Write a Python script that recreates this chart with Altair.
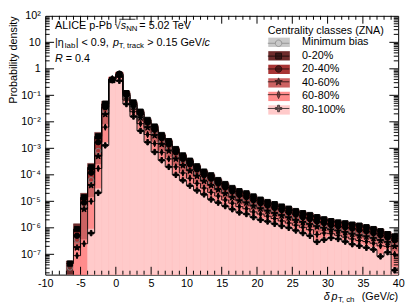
import altair as alt
import pandas as pd

FONT = "Liberation Sans"
W, H = 360, 264
X_MIN, X_MAX = -10, 40
Y_MIN, Y_MAX = 1.71e-8, 100.0

# ---------------- data ----------------
BIN_LEFT = list(range(-7, 40))  # 1 GeV/c wide bins, -7 ... 39

SERIES = ["Minimum bias", "0-20%", "20-40%", "40-60%", "60-80%", "80-100%"]
COLORS = ["#c8c8c8", "#6e2c2c", "#a83434", "#cc6262", "#ff8c8c", "#ffcaca"]

# log10(probability density), one entry per bin; None = no entry
LOG_MIN_BIAS = [-7.50, -6.45, -5.20, -4.20, -3.10, -1.60, -0.39, -0.20,
                -1.02, -1.42, -1.80, -2.15, -2.45, -2.77, -3.02, -3.32, -3.56, -3.76,
                -3.96, -4.15, -4.31, -4.47, -4.62, -4.76, -4.89, -4.97, -5.10, -5.20,
                -5.29, -5.38, -5.46, -5.54, -5.63, -5.72, -5.80, -5.90, -5.96, -6.02,
                -6.06, -6.11, -6.16, -6.22, -6.27, -6.33, -6.41, -6.48, -6.60]
LOG_C0_20 = [-7.35, -6.05, -4.85, -3.72, -2.55, -1.32, -0.42, -0.22,
             -0.92, -1.27, -1.62, -1.93, -2.18, -2.50, -2.73, -3.03, -3.27, -3.47,
             -3.68, -3.88, -4.02, -4.20, -4.35, -4.50, -4.62, -4.70, -4.82, -4.94,
             -5.03, -5.11, -5.20, -5.28, -5.37, -5.45, -5.52, -5.60, -5.68, -5.75,
             -5.80, -5.83, -5.88, -5.92, -5.98, -6.05, -6.13, -6.24, -6.33]
LOG_C20_40 = [None, -6.30, -5.05, -3.92, -2.77, -1.45, -0.40, -0.18,
              -0.98, -1.35, -1.70, -2.03, -2.30, -2.62, -2.86, -3.15, -3.40, -3.60,
              -3.80, -4.01, -4.15, -4.33, -4.48, -4.63, -4.76, -4.84, -4.96, -5.07,
              -5.16, -5.25, -5.33, -5.42, -5.50, -5.60, -5.67, -5.76, -5.82, -5.90,
              -5.94, -5.98, -6.03, -6.08, -6.13, -6.20, -6.28, -6.37, -6.47]
LOG_C40_60 = [None, -6.75, -5.30, -4.40, -3.30, -1.72, -0.38, -0.20,
              -1.05, -1.45, -1.85, -2.22, -2.52, -2.85, -3.10, -3.40, -3.65, -3.85,
              -4.05, -4.24, -4.40, -4.56, -4.71, -4.85, -4.98, -5.06, -5.18, -5.28,
              -5.37, -5.46, -5.54, -5.62, -5.72, -5.80, -5.88, -5.96, -6.02, -6.08,
              -6.12, -6.18, -6.24, -6.30, -6.34, -6.40, -6.48, -6.55, -6.70]
LOG_C60_80 = [None, -7.05, -6.60, -5.00, -3.76, -2.20, -0.38, -0.26,
              -1.18, -1.62, -2.07, -2.48, -2.82, -3.15, -3.40, -3.70, -3.93, -4.13,
              -4.32, -4.50, -4.66, -4.80, -4.95, -5.07, -5.20, -5.28, -5.40, -5.48,
              -5.56, -5.65, -5.74, -5.82, -5.90, -5.98, -6.07, -6.25, -6.20, -6.22,
              -6.28, -6.35, -6.42, -6.48, -6.52, -6.58, -6.68, -6.70, -7.00]
LOG_C80_100 = [None, None, None, -6.20, -4.68, -2.89, -0.43, -0.45,
               -1.33, -1.80, -2.34, -2.77, -3.14, -3.45, -3.70, -4.00, -4.21, -4.41,
               -4.59, -4.74, -4.93, -5.05, -5.18, -5.30, -5.42, -5.48, -5.60, -5.70,
               -5.76, -5.85, -5.93, -6.00, -6.10, -6.20, -6.30, -6.53, -6.45, -6.38,
               -6.42, -6.52, -6.62, -6.68, -6.75, -6.82, -7.08, -6.92, -7.60]
# systematic uncertainty (log10 half height of the boxes), per bin
SYS_LOG = [0.10, 0.20, 0.15, 0.15, 0.15, 0.10, 0.07, 0.06,
           0.06, 0.05, 0.05, 0.05, 0.05, 0.05, 0.05, 0.05, 0.05, 0.05,
           0.05, 0.05, 0.05, 0.05, 0.05, 0.05, 0.05, 0.05, 0.05, 0.05,
           0.05, 0.05, 0.05, 0.05, 0.05, 0.05, 0.06, 0.06, 0.06, 0.06,
           0.06, 0.06, 0.07, 0.07, 0.07, 0.08, 0.08, 0.09, 0.10]
ALL_LOGS = [LOG_MIN_BIAS, LOG_C0_20, LOG_C20_40, LOG_C40_60, LOG_C60_80, LOG_C80_100]

# axis tick values / labels
X_MAJOR = [-10, -5, 0, 5, 10, 15, 20, 25, 30, 35, 40]
X_MINOR = [v for v in range(-10, 41) if v % 5 != 0]
Y_MAJOR = [1e-7, 1e-6, 1e-5, 1e-4, 1e-3, 1e-2, 1e-1, 1.0, 10.0, 100.0]
Y_EXPONENTS = [-7, -6, -5, -4, -3, -2, -1, 0, 1, 2]
Y_LABELS = ["10⁻⁷", "10⁻⁶", "10⁻⁵", "10⁻⁴", "10⁻³", "10⁻²", "10⁻¹", "1", "10", "10²"]
Y_MINOR = [k * 10.0 ** n for n in range(-8, 2) for k in range(2, 10)
           if Y_MIN < k * 10.0 ** n < Y_MAX]

# ---------------- tables ----------------
rows, steps = [], []
for name, logs in zip(SERIES, ALL_LOGS):
    last = None
    for b, v, e in zip(BIN_LEFT, logs, SYS_LOG):
        if v is None:
            continue
        rows.append({"series": name, "x0": b, "x1": b + 1, "xc": b + 0.5,
                     "value": 10 ** v, "top": 10 ** (v + e)})
        steps.append({"series": name, "x": b, "value": 10 ** v})
        last = (b, v)
    steps.append({"series": name, "x": last[0] + 1, "value": 10 ** last[1]})
df = pd.DataFrame(rows)
df_steps = pd.DataFrame(steps)

XS = alt.Scale(domain=[X_MIN, X_MAX], nice=False, zero=False)
YS = alt.Scale(type="log", domain=[Y_MIN, Y_MAX], nice=False)

ylabel_expr = " : ".join(
    f"round(log(datum.value)/LN10) == {k} ? '{t}'" for k, t in zip(Y_EXPONENTS, Y_LABELS)
) + " : ''"

X_AXIS = alt.Axis(values=X_MAJOR, labelExpr="'' + datum.value", ticks=False, domain=False,
                  grid=False, labelPadding=3, labelFontSize=11, labelFont=FONT,
                  labelColor="black", labelFlush=False, labelOverlap=False, title=None)
Y_AXIS = alt.Axis(values=Y_MAJOR, labelExpr=ylabel_expr, ticks=False, domain=False,
                  grid=False, labelPadding=5, labelFontSize=11, labelFont=FONT,
                  labelColor="black", labelFlush=False, labelOverlap=False,
                  title="Probability density", titleFont=FONT, titleFontSize=11,
                  titleFontWeight="normal", titleColor="black", titleAngle=270,
                  titleX=-32, titleY=0, titleAlign="right", titleBaseline="middle")

def X(field):
    return alt.X(field, scale=XS, axis=X_AXIS)

def Y(field):
    return alt.Y(field, scale=YS, axis=Y_AXIS)

BOX = "M-2.2,-0.95H2.2V0.95H-2.2Z"
LEGEND_A = alt.Legend(orient="none", legendX=227, legendY=10, padding=0,
                      title="Centrality classes (ZNA)", titleFont=FONT, titleFontSize=11,
                      titleFontWeight="normal", titleColor="black", titlePadding=0.5,
                      labelFont=FONT, labelFontSize=11, labelColor="black", labelOffset=18,
                      symbolType=BOX, symbolSize=100, symbolOffset=6, symbolStrokeWidth=0,
                      rowPadding=1.8)

# filled histograms / boxes
fills = alt.Chart(df).mark_rect(strokeWidth=0.6, clip=True).encode(
    x=X("x0:Q"),
    x2="x1:Q",
    y=Y("top:Q"),
    y2=alt.datum(Y_MIN),
    fill=alt.Fill("series:N", scale=alt.Scale(domain=SERIES, range=COLORS),
                  legend=LEGEND_A),
    stroke=alt.Stroke("series:N", scale=alt.Scale(domain=SERIES, range=COLORS),
                      legend=None),
)

# step outlines through the bin values
step_black = alt.Chart(df_steps).transform_filter(
    "datum.series != 'Minimum bias'"
).mark_line(interpolate="step-after", color="black", strokeWidth=0.9, clip=True).encode(
    x=X("x:Q"),
    y=Y("value:Q"),
    detail="series:N",
)

STAR = ("M0,-1.2L0.282,-0.388L1.141,-0.371L0.457,0.148L0.705,0.971L0,0.48"
        "L-0.705,0.971L-0.457,0.148L-1.141,-0.371L-0.282,-0.388Z")
THIN_DIAMOND = "M0,-1.2L0.5,0L0,1.2L-0.5,0Z"
FAT_CROSS = "M-0.3,-1H0.3V-0.3H1V0.3H0.3V1H-0.3V0.3H-1V-0.3H-0.3Z"
PLOT_SHAPES = ["circle", "square", "circle", STAR, THIN_DIAMOND, FAT_CROSS]
MARK_FILL = ["transparent", "black", "black", "black", "black", "black"]
MARK_STROKE = ["#808080", "black", "black", "black", "black", "black"]

markers = alt.Chart(df).mark_point(filled=True, size=30, strokeWidth=1, opacity=1,
                                   clip=True).encode(
    x=X("xc:Q"),
    y=Y("value:Q"),
    shape=alt.Shape("series:N", scale=alt.Scale(domain=SERIES, range=PLOT_SHAPES), legend=None),
    fill=alt.Fill("series:N", scale=alt.Scale(domain=SERIES, range=MARK_FILL), legend=None),
    stroke=alt.Stroke("series:N", scale=alt.Scale(domain=SERIES, range=MARK_STROKE), legend=None),
)

# legend: line + marker symbols drawn over the colour boxes
LEG_SHAPES = [
    "M-2.2,0H-0.66M0.66,0H2.2M0.66,0A0.66,0.66,0,1,1,-0.66,0A0.66,0.66,0,1,1,0.66,0Z",
    "M-2.2,0H2.2M-0.6,-0.6H0.6V0.6H-0.6Z",
    "M-2.2,0H2.2M0.66,0A0.66,0.66,0,1,1,-0.66,0A0.66,0.66,0,1,1,0.66,0Z",
    "M-2.2,0H2.2M0,-0.8L0.19,-0.26L0.75,-0.24L0.3,0.1L0.47,0.64L0,0.32"
    "L-0.47,0.64L-0.3,0.1L-0.75,-0.24L-0.19,-0.26Z",
    "M-2.2,0H2.2M0,-0.8L0.33,0L0,0.8L-0.33,0Z",
    "M-2.2,0H2.2M-0.2,-0.66H0.2V-0.2H0.66V0.2H0.2V0.66H-0.2V0.2H-0.66V-0.2H-0.2Z",
]
LEGEND_B = alt.Legend(orient="none", legendX=227, legendY=22.5, padding=0, title=None,
                      labelFont=FONT, labelFontSize=11, labelExpr="''",
                      labelOffset=18, symbolSize=100, symbolOffset=5.5, symbolStrokeWidth=1,
                      rowPadding=1.1)
legend_marks = alt.Chart(pd.DataFrame({"entry": SERIES})).transform_filter(
    "false"
).mark_point(filled=True, strokeWidth=1).encode(
    shape=alt.Shape("entry:N", scale=alt.Scale(domain=SERIES, range=LEG_SHAPES), legend=LEGEND_B),
    fill=alt.Fill("entry:N", scale=alt.Scale(domain=SERIES, range=MARK_FILL), legend=LEGEND_B),
    stroke=alt.Stroke("entry:N", scale=alt.Scale(domain=SERIES, range=MARK_STROKE), legend=LEGEND_B),
)

# inner ticks on all four sides
def xticks(values, length):
    d = pd.DataFrame({"v": values})
    bottom = alt.Chart(d).mark_rule(color="black", strokeWidth=1).encode(
        x=X("v:Q"), y=alt.value(H), y2=alt.value(H - length))
    top = alt.Chart(d).mark_rule(color="black", strokeWidth=1).encode(
        x=X("v:Q"), y=alt.value(0), y2=alt.value(length))
    return [bottom, top]

def yticks(values, length):
    d = pd.DataFrame({"v": values})
    left = alt.Chart(d).mark_rule(color="black", strokeWidth=1).encode(
        y=Y("v:Q"), x=alt.value(0), x2=alt.value(length))
    right = alt.Chart(d).mark_rule(color="black", strokeWidth=1).encode(
        y=Y("v:Q"), x=alt.value(W), x2=alt.value(W - length))
    return [left, right]

ticks = (xticks(X_MAJOR[1:-1], 8) + xticks(X_MINOR, 4)
         + yticks(Y_MAJOR[:-1], 9) + yticks(Y_MINOR, 4.5))

# annotation texts (with sub/superscript pieces)
def txt(s, x, y, size=11, italic=False, align="left"):
    return alt.Chart(pd.DataFrame({"t": [s]})).mark_text(
        align=align, baseline="middle", font=FONT, fontSize=size,
        fontStyle="italic" if italic else "normal", color="black"
    ).encode(text="t:N", x=alt.value(x), y=alt.value(y))

sqrt_bar = alt.Chart(pd.DataFrame({"a": [0]})).mark_rule(color="black", strokeWidth=0.8).encode(
    x=alt.value(75.5), x2=alt.value(92), y=alt.value(3.5))

texts = [
    txt("ALICE p-Pb", 10, 10),
    txt("√", 71, 10),
    txt("s", 77, 10, italic=True),
    txt("NN", 82.5, 13, size=8),
    txt("= 5.02 TeV", 96, 10),
    txt("|η", 10, 28),
    txt("lab", 20, 31, size=8),
    txt("| < 0.9,", 31, 28),
    txt("p", 69, 28, italic=True),
    txt("T, track", 75, 31, size=8),
    txt("> 0.15 GeV/", 104, 28),
    txt("c", 162.5, 28, italic=True),
    txt("R", 10, 44, italic=True),
    txt("= 0.4", 21, 44),
    # x-axis title
    txt("δ", 284, 287, italic=True),
    txt("p", 292, 287, italic=True),
    txt("T, ch", 298.5, 289.5, size=8),
    txt(")", 360, 287, align="right"),
    txt("c", 356.4, 287, italic=True, align="right"),
    txt("(GeV/", 351.5, 287, align="right"),
]

chart = alt.layer(
    fills, step_black, markers, legend_marks, *ticks, sqrt_bar, *texts
).resolve_scale(
    fill="independent", shape="independent", stroke="independent"
).properties(
    width=W, height=H,
    autosize=alt.AutoSizeParams(type="none"),
    padding={"left": 38, "top": 5, "right": 9, "bottom": 29},
    background="white",
).configure(font=FONT).configure_view(stroke="black", strokeWidth=1)

chart.save("out.html", embed_options={"renderer": "svg", "actions": False})
